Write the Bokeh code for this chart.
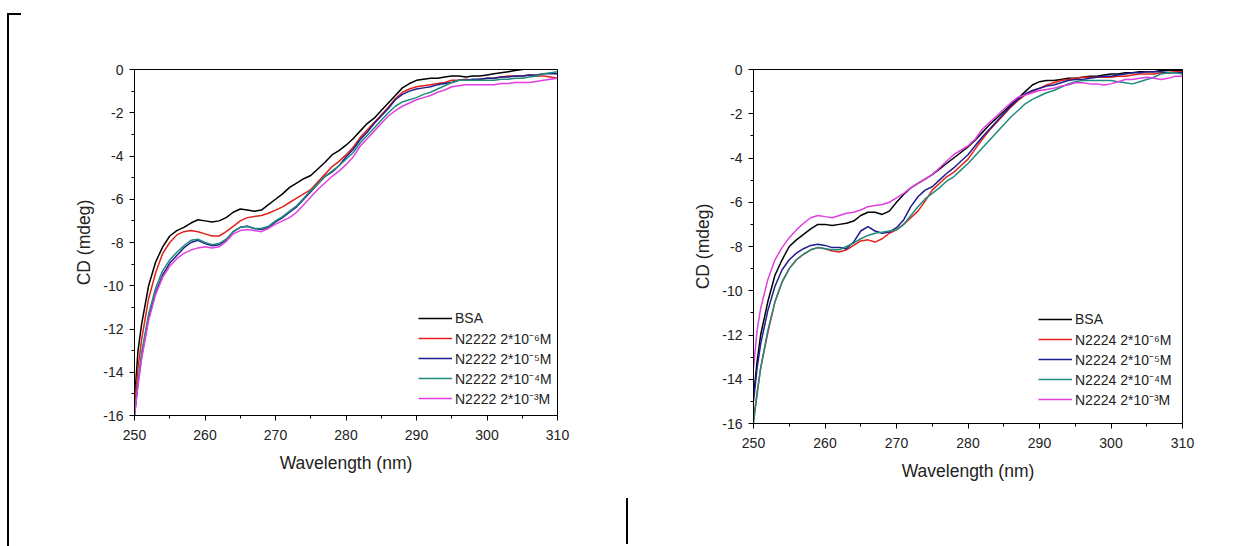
from bokeh.plotting import figure
from bokeh.layouts import row
from bokeh.models import Range1d, SingleIntervalTicker, Legend, LegendItem, InlineStyleSheet, CustomJSTickFormatter
from bokeh.embed import file_html
from bokeh.resources import INLINE

WL = [250, 250.5, 251] + list(range(252, 311))

# ---- Left panel: N2222 ----
L_BSA = [-15.3, -13.0, -11.8, -10.0, -8.9, -8.2, -7.7, -7.45, -7.3, -7.1, -6.95, -7.0, -7.05, -7.0, -6.85, -6.6, -6.45, -6.5, -6.55, -6.5,
         -6.25, -6.0, -5.75, -5.45, -5.25, -5.05, -4.9, -4.6, -4.3, -3.95, -3.75, -3.5, -3.2, -2.85, -2.5, -2.25, -1.9, -1.55, -1.2, -0.85,
         -0.65, -0.5, -0.45, -0.4, -0.4, -0.35, -0.3, -0.3, -0.35, -0.3, -0.3, -0.25, -0.2, -0.15, -0.1, -0.05, 0.0, 0.05, 0.1, 0.1, 0.15, 0.15]
L_M6 = [-15.6, -13.8, -12.5, -10.6, -9.4, -8.5, -8.0, -7.65, -7.5, -7.45, -7.5, -7.6, -7.7, -7.7, -7.5, -7.25, -7.0, -6.85, -6.8, -6.75,
        -6.65, -6.5, -6.35, -6.15, -5.95, -5.75, -5.55, -5.2, -4.85, -4.5, -4.25, -3.95, -3.6, -3.15, -2.8, -2.45, -2.1, -1.75, -1.35, -1.05,
        -0.9, -0.8, -0.75, -0.7, -0.65, -0.6, -0.5, -0.5, -0.45, -0.5, -0.45, -0.4, -0.4, -0.35, -0.3, -0.3, -0.3, -0.25, -0.3, -0.3, -0.35, -0.4]
L_M5 = [-16.0, -14.5, -13.3, -11.5, -10.3, -9.5, -8.95, -8.6, -8.25, -8.0, -7.9, -8.05, -8.15, -8.1, -7.9, -7.5, -7.3, -7.25, -7.35, -7.4,
        -7.3, -7.05, -6.85, -6.6, -6.35, -6.0, -5.65, -5.3, -4.95, -4.75, -4.45, -4.05, -3.7, -3.25, -2.9, -2.5, -2.15, -1.8, -1.4, -1.15,
        -1.0, -0.9, -0.85, -0.8, -0.7, -0.65, -0.6, -0.5, -0.5, -0.45, -0.45, -0.4, -0.4, -0.35, -0.35, -0.3, -0.3, -0.25, -0.25, -0.2, -0.2, -0.2]
L_M4 = [-16.0, -14.4, -13.1, -11.3, -10.1, -9.3, -8.8, -8.45, -8.15, -7.9, -7.85, -8.0, -8.1, -8.05, -7.85, -7.5, -7.3, -7.25, -7.35, -7.35,
        -7.25, -7.0, -6.8, -6.55, -6.3, -5.95, -5.6, -5.3, -4.95, -4.7, -4.45, -4.15, -3.85, -3.4, -3.05, -2.7, -2.35, -2.0, -1.7, -1.5,
        -1.4, -1.3, -1.15, -1.05, -0.9, -0.75, -0.6, -0.5, -0.5, -0.5, -0.5, -0.5, -0.5, -0.45, -0.45, -0.4, -0.4, -0.35, -0.3, -0.2, -0.15, -0.1]
L_M3 = [-16.0, -14.6, -13.4, -11.6, -10.4, -9.6, -9.1, -8.75, -8.5, -8.35, -8.25, -8.2, -8.25, -8.2, -7.95, -7.6, -7.45, -7.4, -7.45, -7.5,
        -7.35, -7.15, -7.0, -6.85, -6.6, -6.25, -5.9, -5.55, -5.25, -4.95, -4.7, -4.4, -4.05, -3.55, -3.2, -2.85, -2.5, -2.15, -1.9, -1.7,
        -1.55, -1.4, -1.3, -1.2, -1.05, -0.95, -0.8, -0.75, -0.7, -0.7, -0.7, -0.7, -0.7, -0.65, -0.65, -0.6, -0.6, -0.6, -0.55, -0.5, -0.45, -0.4]

# ---- Right panel: N2224 ----
R_BSA = [-14.8, -13.2, -12.0, -10.5, -9.3, -8.6, -8.0, -7.7, -7.45, -7.2, -7.0, -7.0, -7.05, -7.0, -6.95, -6.85, -6.6, -6.45, -6.45, -6.55,
         -6.4, -6.0, -5.65, -5.35, -5.15, -4.95, -4.75, -4.5, -4.25, -4.0, -3.75, -3.5, -3.2, -2.85, -2.5, -2.2, -1.9, -1.6, -1.3, -1.0,
         -0.7, -0.55, -0.5, -0.5, -0.45, -0.4, -0.4, -0.35, -0.3, -0.3, -0.25, -0.2, -0.2, -0.15, -0.15, -0.1, -0.1, -0.1, -0.05, -0.05, -0.05, -0.05]
R_M6 = [-15.8, -14.6, -13.5, -11.9, -10.5, -9.6, -9.0, -8.6, -8.35, -8.15, -8.05, -8.1, -8.2, -8.25, -8.15, -7.95, -7.75, -7.7, -7.8, -7.65,
        -7.4, -7.25, -7.0, -6.7, -6.4, -5.95, -5.45, -5.15, -4.85, -4.65, -4.35, -4.05, -3.6, -3.15, -2.75, -2.4, -2.05, -1.7, -1.4, -1.15,
        -1.0, -0.85, -0.7, -0.6, -0.5, -0.45, -0.4, -0.35, -0.35, -0.35, -0.35, -0.35, -0.3, -0.3, -0.25, -0.2, -0.2, -0.2, -0.15, -0.15, -0.1, -0.1]
R_M5 = [-15.0, -13.5, -12.4, -10.9, -9.8, -9.05, -8.6, -8.3, -8.1, -7.95, -7.9, -7.95, -8.05, -8.05, -8.1, -7.8, -7.3, -7.1, -7.3, -7.4,
        -7.35, -7.15, -6.8, -6.2, -5.75, -5.45, -5.3, -5.0, -4.7, -4.45, -4.15, -3.85, -3.45, -3.05, -2.7, -2.35, -2.0, -1.65, -1.35, -1.1,
        -0.95, -0.85, -0.75, -0.7, -0.6, -0.5, -0.45, -0.45, -0.4, -0.35, -0.3, -0.3, -0.25, -0.2, -0.15, -0.15, -0.1, -0.1, -0.1, -0.15, -0.15, -0.15]
R_M4 = [-16.0, -14.7, -13.5, -11.8, -10.5, -9.6, -9.0, -8.6, -8.35, -8.15, -8.05, -8.1, -8.15, -8.15, -8.0, -7.85, -7.65, -7.5, -7.4, -7.35,
        -7.3, -7.25, -7.0, -6.6, -6.2, -5.85, -5.6, -5.35, -5.05, -4.85, -4.55, -4.25, -3.9, -3.55, -3.2, -2.85, -2.5, -2.15, -1.85, -1.55,
        -1.35, -1.2, -1.05, -0.95, -0.8, -0.65, -0.55, -0.5, -0.5, -0.5, -0.5, -0.5, -0.55, -0.6, -0.65, -0.55, -0.45, -0.35, -0.2, -0.15, -0.15, -0.2]
R_M3 = [-13.5, -11.8, -10.8, -9.5, -8.6, -8.05, -7.6, -7.25, -6.95, -6.7, -6.6, -6.65, -6.7, -6.6, -6.5, -6.45, -6.35, -6.2, -6.15, -6.1,
        -6.0, -5.8, -5.6, -5.35, -5.15, -4.95, -4.75, -4.45, -4.15, -3.85, -3.65, -3.45, -3.15, -2.7, -2.4, -2.1, -1.8, -1.5, -1.25, -1.15,
        -1.05, -0.95, -0.9, -0.85, -0.75, -0.7, -0.6, -0.6, -0.65, -0.65, -0.7, -0.65, -0.55, -0.45, -0.45, -0.4, -0.35, -0.4, -0.45, -0.4, -0.3, -0.3]

COLORS = ["#000000", "#e3221c", "#1e1e8e", "#1f8c7e", "#e23fe2"]
EXPS = ["\u207b\u2076", "\u207b\u2075", "\u207b\u2074", "\u207b\u00b3"]
LEFT_LABELS = ["BSA"] + ["N2222 2*10" + e + "M" for e in EXPS]
RIGHT_LABELS = ["BSA"] + ["N2224 2*10" + e + "M" for e in EXPS]

FONT = "Liberation Sans"


def make_panel(series, labels, fw, fh, bl, br, bt, bb, leg_loc):
    p = figure(frame_width=fw, frame_height=fh, min_border_left=bl, min_border_right=br,
               min_border_top=bt, min_border_bottom=bb,
               x_range=Range1d(250, 310), y_range=Range1d(-16, 0),
               output_backend="svg", toolbar_location=None)
    p.xgrid.visible = False
    p.ygrid.visible = False
    p.outline_line_color = "black"
    p.outline_line_width = 1
    p.outline_line_alpha = 1
    p.background_fill_color = "white"
    p.border_fill_color = "white"

    p.xaxis.ticker = SingleIntervalTicker(interval=10, num_minor_ticks=2)
    p.yaxis.ticker = SingleIntervalTicker(interval=2, num_minor_ticks=2)
    p.yaxis.formatter = CustomJSTickFormatter(code="return tick.toString();")
    p.xaxis.axis_label = "Wavelength (nm)"
    p.yaxis.axis_label = "CD (mdeg)"
    for ax in (p.xaxis, p.yaxis):
        ax.axis_line_color = "black"
        ax.major_tick_line_color = "black"
        ax.minor_tick_line_color = "black"
        ax.major_tick_out = 5
        ax.major_tick_in = 0
        ax.minor_tick_out = 3
        ax.minor_tick_in = 0
        ax.major_label_text_font = FONT
        ax.major_label_text_font_size = "14px"
        ax.major_label_text_color = "#222222"
        ax.axis_label_text_font = FONT
        ax.axis_label_text_font_size = "17.5px"
        ax.axis_label_text_font_style = "normal"
        ax.axis_label_text_color = "#222222"
    p.xaxis.major_label_standoff = 9
    p.yaxis.major_label_standoff = 6
    p.xaxis.axis_label_standoff = 10
    p.yaxis.axis_label_standoff = 6

    items = []
    for ys, col, lab in zip(series, COLORS, labels):
        r = p.line(WL, ys, line_color=col, line_width=1.5)
        items.append(LegendItem(label=lab, renderers=[r]))
    leg = Legend(items=items, location=leg_loc, padding=0, margin=0, spacing=0,
                 glyph_width=34, glyph_height=20, label_height=20, label_standoff=3,
                 label_text_font=FONT, label_text_font_size="14px", label_text_color="#222222",
                 border_line_alpha=0, background_fill_alpha=0)
    p.add_layout(leg, "center")
    return p


p1 = make_panel([L_BSA, L_M6, L_M5, L_M4, L_M3], LEFT_LABELS, 423, 346, 134, 70, 69, 125, (284, 7))
p2 = make_panel([R_BSA, R_M6, R_M5, R_M4, R_M3], RIGHT_LABELS, 429, 354, 126, 46, 69, 117, (285, 14))

css = InlineStyleSheet(css="""
:host { overflow: visible; }
:host::before { content: ""; position: absolute; left: 7px; top: 13px; width: 12px; height: 531px;
  border-left: 2px solid #000; border-top: 2px solid #000; pointer-events: none; z-index: 10; }
:host::after { content: ""; position: absolute; left: 626px; top: 498px; width: 2px; height: 46px;
  background: #000; pointer-events: none; z-index: 10; }
""")

layout = row(p1, p2, spacing=0, stylesheets=[css])
open("out.html", "w").write(file_html(layout, INLINE))
